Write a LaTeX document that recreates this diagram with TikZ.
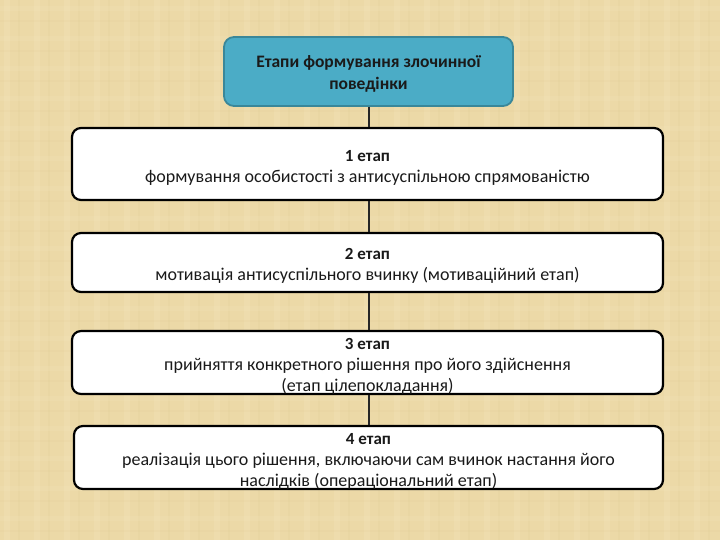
\documentclass[tikz,border=0pt]{standalone}
\usepackage{fontspec}
\setmainfont{Carlito}
\definecolor{bgc}{HTML}{ECD9A7}
\definecolor{bgd}{HTML}{DEC891}
\definecolor{bgl}{HTML}{F4E6BF}
\definecolor{teal}{HTML}{4BACC6}
\definecolor{tealdark}{HTML}{3A8799}
\definecolor{txt}{HTML}{1A1A1A}
\newcommand{\stg}[1]{{\fontsize{17}{21}\selectfont\bfseries\rule{0pt}{18pt}#1}}
\begin{document}
\begin{tikzpicture}[x=1pt,y=-1pt,
  headbox/.style={draw=tealdark, line width=1.8pt, fill=teal, rounded corners=10pt,
    align=center, text=txt, font=\fontsize{17.5}{22}\selectfont\bfseries, inner sep=0pt},
  stagebox/.style={draw=black, line width=2.2pt, fill=white, rounded corners=9pt,
    align=center, text=txt, font=\fontsize{18}{21}\selectfont, inner sep=0pt},
  link/.style={draw=black!85, line width=2.8pt}]
\useasboundingbox (0,0) rectangle (720,540);
\fill[bgc] (0,0) rectangle (720,540);
% subtle woven texture
\foreach \i in {0,...,23}{
  \fill[bgl, opacity=0.25] (\i*30+4,0) rectangle (\i*30+10,540);
  \fill[bgd, opacity=0.15] (\i*30+18,0) rectangle (\i*30+20,540);
}
\foreach \j in {0,...,17}{
  \fill[bgl, opacity=0.2] (0,\j*30+6) rectangle (720,\j*30+11);
  \fill[bgd, opacity=0.12] (0,\j*30+20) rectangle (720,\j*30+22);
}
\node[headbox, minimum width=289pt, minimum height=69pt] (top) at (368.5,71.5)
  {\rule{0pt}{17pt}Етапи формування злочинної\\поведінки};
\node[stagebox, minimum width=591pt, minimum height=72pt] (s1) at (367.5,164)
  {\stg{1 етап}\\формування особистості з антисуспільною спрямованістю};
\node[stagebox, minimum width=591pt, minimum height=59pt] (s2) at (367.5,262.5)
  {\stg{2 етап}\\мотивація антисуспільного вчинку (мотиваційний етап)};
\node[stagebox, minimum width=591pt, minimum height=61pt] (s3) at (367.5,362.5)
  {\stg{3 етап}\\прийняття конкретного рішення  про його здійснення\\(етап цілепокладання)};
\node[stagebox, minimum width=589pt, minimum height=63pt] (s4) at (368.5,457.5)
  {\stg{4 етап}\\реалізація цього рішення, включаючи сам вчинок настання його\\наслідків (операціональний етап)};
\draw[link] (top.south -| 369,0) -- (369,0 |- s1.north);
\draw[link] (s1.south -| 369,0) -- (369,0 |- s2.north);
\draw[link] (s2.south -| 369,0) -- (369,0 |- s3.north);
\draw[link] (s3.south -| 369,0) -- (369,0 |- s4.north);
\end{tikzpicture}
\end{document}
